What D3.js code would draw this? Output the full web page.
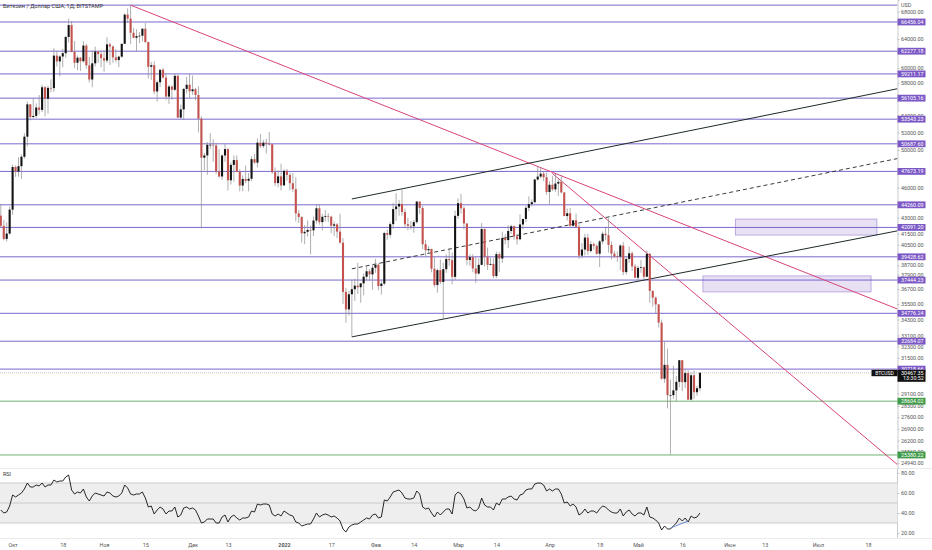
<!DOCTYPE html>
<html>
<head>
<meta charset="utf-8">
<script src="https://cdn.jsdelivr.net/npm/d3@7"></script>
<style>
  html, body { margin: 0; padding: 0; background: #fff; }
  svg { display: block; font-family: Roboto, "Liberation Sans", sans-serif; }
</style>
</head>
<body>
<div id="chart"></div>
<script>
// ---- data (BTCUSD, Bitstamp, 1D) ----
const firstDay = "2021-09-27";
const firstOpen = 43210;

const highs = [
  44350, 42790, 42580, 44100,
  48400, 48300, 49200, 49500, 51900, 55700, 55340, 56100, 55450, 56500, 57800, 57650, 57650, 58500, 62700, 62300, 61700, 62600, 64400, 66950, 66600, 63700, 61700, 61450, 63700, 63300, 61500, 62400, 62900, 62300, 62400,
  62400, 64250, 63500, 63050, 62600, 61650, 63300, 67750, 68500, 68990, 65600, 65400, 65000, 65500, 66300, 63600, 60800, 60900, 58350, 59800, 60000, 59250, 57800, 57700, 59300, 59100, 55300, 57400, 58850, 59200,
  59000, 57400, 57600, 53900, 49650, 50900, 51900, 51200, 50800, 50100, 49500, 50700, 50200, 48650, 49400, 49400, 47900, 47250, 48300, 47500, 49300, 49550, 51300, 51800, 51150, 51250, 52050, 50650, 48100, 47800, 48500,
  47900, 47950, 47550, 47500, 47050, 43750, 43150, 42300, 42750, 42250, 43100, 44350, 44300, 43400, 43750, 43450, 43200, 42650, 42500, 43400, 41100, 36800, 36550, 37500, 37550, 38900, 37200, 38000, 38700, 38350, 38700,
  39250, 38850, 37400, 41700, 41900, 42600, 44450, 45400, 44750, 45800, 43900, 43000, 42700, 42800, 44650, 44500, 44150, 40950, 40400, 40150, 39400, 38400, 39200, 38900, 39650, 40200, 39800, 43700,
  44900, 45350, 44100, 42500, 39650, 39650, 39400, 39300, 42500, 42000, 40250, 39350, 39300, 39900, 39850, 41700, 41450, 42300, 42350, 42250, 41500, 43350, 42900, 44150, 45100, 44800, 46900, 48200, 48100, 47650, 47550,
  46650, 47200, 47400, 46850, 47150, 45500, 43900, 43950, 42800, 43400, 42400, 40650, 41500, 41500, 40850, 40700, 40550, 40950, 41700, 42150, 42950, 40800, 39950, 39900, 40550, 40750, 39450, 40350, 39900, 38800,
  38650, 39150, 38600, 40000, 39800, 36600, 36100, 35500, 34300, 32650, 32150, 30000, 30950, 30250, 31350, 31250, 30700, 30650, 30500, 30600, 29600, 30500
];

const lows = [
  42100, 40900, 40800, 41440,
  43300, 47100, 47120, 46900, 49050, 50400, 53400, 53650, 53700, 54100, 54400, 53880, 54200, 56850, 56900, 60200, 58900, 60100, 61400, 63500, 62100, 60000, 59700, 59600, 60700, 59900, 58100, 57500, 60200, 60700, 60100,
  59500, 60700, 60400, 60700, 60750, 60100, 61350, 63300, 66300, 63300, 64100, 62300, 63400, 63600, 63400, 58600, 58400, 56600, 55650, 57500, 58600, 55900, 55400, 55900, 57000, 53700, 53600, 53450, 56700, 56050,
  56500, 55850, 52000, 42000, 47800, 47300, 50100, 48700, 47400, 47000, 46800, 48700, 45700, 46300, 46600, 47600, 45600, 45600, 46450, 45600, 46650, 48500, 48100, 50200, 50200, 49600, 50500, 47400, 46150, 46000, 45700,
  46200, 46700, 45700, 45550, 42650, 42500, 40700, 40550, 41250, 39650, 41300, 42450, 42350, 41800, 42650, 42600, 41550, 41300, 41100, 40600, 35500, 34050, 34600, 33000, 35750, 36300, 35600, 36200, 37400, 37400, 36650,
  38050, 36600, 36250, 37000, 40950, 41150, 41950, 42700, 43200, 43200, 42000, 41800, 41900, 41600, 42450, 43350, 40100, 39450, 39700, 38100, 36850, 36400, 37100, 34300, 38050, 38650, 37100, 37450,
  42900, 43400, 41900, 38700, 38650, 38100, 37200, 37900, 38700, 38600, 38300, 38700, 37600, 37600, 38100, 38900, 40550, 40200, 41500, 40950, 40500, 40900, 41900, 42600, 43650, 44100, 44400, 46700, 46950, 46650, 45250,
  44250, 45650, 45550, 45150, 45400, 43150, 42750, 42150, 42150, 42050, 39250, 39300, 39550, 39600, 39800, 40050, 39600, 38550, 40550, 40900, 39800, 39200, 39300, 39000, 38250, 37850, 37900, 38900, 38200, 37600,
  37400, 38050, 37500, 37700, 35600, 35300, 34800, 33700, 30000, 29800, 28150, 25400, 28750, 28600, 29500, 29250, 29450, 28700, 28650, 28750, 28950, 29250
];

const closes = [
  42240, 41030, 41520, 43790,
  48140, 47660, 48230, 49250, 51500, 55340, 53800, 53930, 54950, 54660, 57480, 56040, 57400, 57370, 61670, 60880, 61550, 62000, 64280, 66000, 62200, 60700, 61390, 60900, 63060, 60350, 58480, 60620, 62240, 61880, 61320,
  61000, 63230, 62940, 61430, 61060, 61530, 63310, 67550, 66970, 64880, 64160, 64400, 64460, 65470, 63560, 60160, 60370, 56940, 58120, 59760, 58730, 56300, 57570, 57160, 58960, 53730, 54720, 57270, 57800, 56980,
  57220, 56500, 53600, 49150, 49400, 50580, 50580, 50500, 47670, 47140, 49390, 50100, 46740, 48370, 48890, 47630, 46200, 46880, 46690, 46900, 48990, 48610, 50820, 50430, 50820, 50700, 50640, 47590, 46450, 47150, 46210,
  47730, 47300, 46440, 45830, 43430, 43080, 41550, 41680, 41860, 41820, 42740, 43920, 42590, 43100, 43180, 43110, 42250, 42380, 41700, 40690, 36470, 35080, 36280, 36690, 36980, 36850, 37170, 37720, 38180, 37920, 38480,
  38740, 36950, 37150, 41570, 41410, 42400, 43840, 44100, 44350, 43560, 42390, 42240, 42200, 42590, 44580, 43950, 40550, 40010, 40120, 38400, 37030, 38280, 37280, 38360, 39230, 39140, 37710, 43190,
  44420, 43920, 42460, 39150, 39400, 38420, 37990, 38730, 41940, 39440, 38730, 38810, 37780, 39670, 39280, 41110, 40920, 41760, 42200, 41260, 41000, 42370, 42890, 43960, 44330, 44520, 46820, 47130, 47430, 47060, 45540,
  46280, 45810, 46400, 46580, 45500, 43170, 43440, 42250, 42760, 42150, 39530, 40070, 41150, 39940, 40550, 40400, 39700, 40800, 41500, 41370, 40480, 39710, 39470, 39450, 40430, 38110, 39240, 39740, 38600, 37640,
  38470, 38530, 37720, 39690, 36550, 36010, 35470, 34060, 30070, 31010, 28990, 28990, 29300, 29860, 31330, 29840, 30450, 28700, 30300, 29180, 29440, 30467.35
];

const rsiValues = [
  43, 40, 41, 47,
  58, 56, 58, 60, 64, 70, 66, 66, 68, 67, 70, 66, 68, 68, 73, 71, 72, 72, 76, 78, 63, 59, 61, 60, 64, 56, 52, 57, 60, 59, 58,
  57, 61, 60, 57, 56, 57, 60, 68, 65, 59, 58, 59, 59, 61, 55, 46, 47, 39, 43, 46, 44, 39, 42, 42, 46, 36, 38, 45, 46, 44,
  45, 43, 37, 30, 31, 34, 34, 34, 30, 30, 36, 38, 31, 36, 38, 35, 33, 35, 35, 36, 42, 41, 49, 48, 49, 49, 48, 39, 37, 39, 37,
  42, 40, 38, 37, 31, 30, 27, 28, 29, 29, 34, 40, 36, 38, 39, 38, 36, 37, 35, 32, 24, 21, 26, 28, 29, 29, 31, 33, 35, 34, 38,
  39, 35, 36, 53, 52, 56, 61, 62, 63, 60, 55, 54, 54, 55, 62, 59, 46, 44, 45, 40, 36, 41, 38, 41, 44, 44, 39, 58,
  61, 59, 54, 45, 46, 43, 42, 45, 55, 48, 46, 46, 43, 50, 48, 54, 54, 56, 57, 54, 53, 58, 59, 63, 64, 64, 69, 70, 70, 68, 62,
  64, 62, 64, 64, 59, 50, 51, 47, 49, 46, 38, 40, 44, 40, 42, 42, 40, 44, 47, 46, 43, 41, 40, 40, 44, 37, 41, 43, 39, 37,
  40, 40, 38, 46, 36, 35, 33, 30, 23, 27, 24, 24, 27, 30, 35, 32, 35, 31, 37, 35, 36, 40
];

// horizontal levels
const athLevel = 68990;
const purpleLevels = [66456.04, 62277.18, 59211.17, 56105.16, 53543.23, 50687.60, 47673.19, 44260.09,
                      42091.20, 39428.62, 37444.23, 34776.24, 32684.07, 30718.66];
const greenLevels = [28604.02, 25380.22];

const priceTicks = [68000, 64000, 60000, 58000, 54000, 52000, 50000, 46000, 43000, 41500, 40500, 38700,
                    37900, 36700, 35500, 34300, 33100, 32300, 31500, 29100, 28300, 27600, 26900, 26200, 25560, 24940];
const rsiTicks = [80, 60, 40, 20];
const rsiBand = [70, 50, 30];

const tickDates = ["2021-10-01", "2021-10-18", "2021-11-01", "2021-11-15", "2021-12-01", "2021-12-13",
                   "2022-01-01", "2022-01-17", "2022-02-01", "2022-02-14", "2022-03-01", "2022-03-14",
                   "2022-04-01", "2022-04-18", "2022-05-01", "2022-05-16", "2022-06-01", "2022-06-13",
                   "2022-07-01", "2022-07-18"];
const tickLabels = ["Окт", "18", "Ноя", "15", "Дек", "13", "2022", "17", "Фев", "14", "Мар", "14",
                    "Апр", "18", "Май", "16", "Июн", "13", "Июл", "18"];

// drawings: [date1, price1, date2, price2], extended to the right edge
const pinkLines = [
  ["2021-11-10", 68990, "2022-03-28", 48200],
  ["2022-04-02", 47450, "2022-05-04", 39750]
];
const channelLines = [
  ["2022-01-24", 44840, "2022-02-24", 46720],
  ["2022-01-24", 33000, "2022-02-24", 34330]
];
const channelMid = ["2022-01-24", 38390, "2022-02-24", 40000];
// zones: [date from, date to, price top, price bottom]
const zones = [
  ["2022-06-03", "2022-07-21", 42880, 41380],
  ["2022-05-23", "2022-07-19", 37790, 36470]
];
const rsiTrend = ["2022-05-12", 25, "2022-05-18", 32];

const lastPrice = 30467.35;
const lastTimer = "13:30:52";

// ---- layout ----
const W = 932, H = 550;
const plotRight = 897.5;
const priceBottom = 468;
const parse = d3.utcParse("%Y-%m-%d");
const DAY = 864e5;
const jan1 = Date.UTC(2022, 0, 1);
const pxPerDay = 2.95;

const x = d3.scaleUtc()
    .domain([new Date(jan1 - 284 / pxPerDay * DAY), new Date(jan1 + (plotRight - 284) / pxPerDay * DAY)])
    .range([0, plotRight]);
const y = d3.scaleLog().domain([24656, 69785]).range([priceBottom, 0]);
const yR = d3.scaleLinear().domain([20, 80]).range([533, 473]);

const svg = d3.select("#chart").append("svg")
    .attr("width", W).attr("height", H);

svg.append("defs").append("clipPath").attr("id", "pane")
  .append("rect").attr("x", 0).attr("y", 0).attr("width", plotRight).attr("height", priceBottom);

const start = parse(firstDay);
const candles = closes.map((c, i) => {
    var o = i === 0 ? firstOpen : closes[i - 1];
    return {
        date: d3.utcDay.offset(start, i),
        o: o, c: c,
        h: Math.max(highs[i], o, c),
        l: Math.min(lows[i], o, c)
    };
});

const price = svg.append("g").attr("clip-path", "url(#pane)");

// zones
price.selectAll("rect.zone")
    .data(zones)
    .enter().append("rect")
    .attr("class", "zone")
    .attr("x", d => x(parse(d[0])))
    .attr("y", d => y(d[2]))
    .attr("width", d => x(parse(d[1])) - x(parse(d[0])))
    .attr("height", d => y(d[3]) - y(d[2]))
    .attr("fill", "rgba(149,117,205,0.22)")
    .attr("stroke", "rgba(126,87,194,0.55)")
    .attr("stroke-width", 0.8);

// horizontal levels
price.selectAll("line.purple")
    .data([athLevel].concat(purpleLevels))
    .enter().append("line")
    .attr("x1", 0).attr("x2", plotRight)
    .attr("y1", d => y(d)).attr("y2", d => y(d))
    .attr("stroke", "#6b57c9").attr("stroke-width", 0.9);

price.selectAll("line.green")
    .data(greenLevels)
    .enter().append("line")
    .attr("x1", 0).attr("x2", plotRight)
    .attr("y1", d => y(d)).attr("y2", d => y(d))
    .attr("stroke", "#62a862").attr("stroke-width", 0.9);

// last price line
price.append("line")
    .attr("x1", 0).attr("x2", plotRight)
    .attr("y1", y(lastPrice)).attr("y2", y(lastPrice))
    .attr("stroke", "#9a9a9a").attr("stroke-width", 0.6)
    .attr("stroke-dasharray", "1,1");

// ray from two anchors to the right edge
function ray(d) {
    var x1 = x(parse(d[0])), y1 = y(d[1]);
    var x2 = x(parse(d[2])), y2 = y(d[3]);
    var k = (y2 - y1) / (x2 - x1);
    return [x1, y1, plotRight, y1 + k * (plotRight - x1)];
}

price.selectAll("line.pink")
    .data(pinkLines.map(ray))
    .enter().append("line")
    .attr("x1", d => d[0]).attr("y1", d => d[1])
    .attr("x2", d => d[2]).attr("y2", d => d[3])
    .attr("stroke", "#d6457c").attr("stroke-width", 1);

price.selectAll("line.channel")
    .data(channelLines.map(ray))
    .enter().append("line")
    .attr("x1", d => d[0]).attr("y1", d => d[1])
    .attr("x2", d => d[2]).attr("y2", d => d[3])
    .attr("stroke", "#1f2a28").attr("stroke-width", 1);

const mid = ray(channelMid);
price.append("line")
    .attr("x1", mid[0]).attr("y1", mid[1])
    .attr("x2", mid[2]).attr("y2", mid[3])
    .attr("stroke", "#1f2a28").attr("stroke-width", 0.9)
    .attr("stroke-dasharray", "4,3");

// candles
const bodyW = 2.1;
const cg = price.selectAll("g.candle")
    .data(candles)
    .enter().append("g")
    .attr("class", "candle");

cg.append("line")
    .attr("x1", d => x(d.date)).attr("x2", d => x(d.date))
    .attr("y1", d => y(d.h)).attr("y2", d => y(d.l))
    .attr("stroke", "#8c8c8c").attr("stroke-width", 0.7);

cg.append("rect")
    .attr("x", d => x(d.date) - bodyW / 2)
    .attr("y", d => y(Math.max(d.o, d.c)))
    .attr("width", bodyW)
    .attr("height", d => Math.max(0.7, Math.abs(y(d.o) - y(d.c))))
    .attr("fill", d => d.c >= d.o ? "#141414" : "#c4534f");

// title
svg.append("text")
    .attr("x", 3).attr("y", 7.5)
    .attr("font-size", 5.6).attr("fill", "#333")
    .text("Биткоин / Доллар США, 1Д, BITSTAMP");

// ---- right price axis ----
const yAxis = svg.append("g")
    .attr("transform", "translate(" + plotRight + ",0)")
    .call(d3.axisRight(y).tickValues(priceTicks).tickFormat(d3.format(".2f")).tickSize(2).tickPadding(1.5));
yAxis.select(".domain").attr("stroke", "#a8a8a8").attr("stroke-width", 0.6);
yAxis.selectAll(".tick line").attr("stroke", "#a8a8a8").attr("stroke-width", 0.6);
yAxis.selectAll("text").attr("font-size", 5.4).attr("fill", "#555").attr("font-family", "Roboto, sans-serif");

svg.append("line")
    .attr("x1", plotRight).attr("x2", plotRight).attr("y1", priceBottom).attr("y2", 538)
    .attr("stroke", "#a8a8a8").attr("stroke-width", 0.6);

svg.append("text")
    .attr("x", 901).attr("y", 7)
    .attr("font-size", 5.4).attr("fill", "#555")
    .text("USD");

// level labels
function levelLabel(v, bg) {
    var g = svg.append("g").attr("transform", "translate(" + plotRight + "," + y(v) + ")");
    g.append("rect").attr("x", 0).attr("y", -3.4).attr("width", 28).attr("height", 6.8).attr("fill", bg);
    g.append("text").attr("x", 3.5).attr("y", 2).attr("font-size", 5.4).attr("fill", "#fff")
        .text(d3.format(".2f")(v));
}
purpleLevels.forEach(v => levelLabel(v, "#7b58c6"));
greenLevels.forEach(v => levelLabel(v, "#3f9a49"));

// last price labels
const ly = y(lastPrice);
svg.append("rect").attr("x", 871.5).attr("y", ly - 3).attr("width", 26).attr("height", 6.4).attr("fill", "#111");
svg.append("text").attr("x", 884.5).attr("y", ly + 2).attr("text-anchor", "middle")
    .attr("font-size", 5).attr("fill", "#fff").text("BTCUSD");
svg.append("rect").attr("x", plotRight).attr("y", ly - 3).attr("width", 28).attr("height", 12).attr("fill", "#111");
svg.append("text").attr("x", 901).attr("y", ly + 2)
    .attr("font-size", 5.4).attr("fill", "#fff").text(d3.format(".2f")(lastPrice));
svg.append("text").attr("x", 903).attr("y", ly + 7.6)
    .attr("font-size", 5.4).attr("fill", "#fff").text(lastTimer);

// ---- RSI pane ----
svg.append("line")
    .attr("x1", 0).attr("x2", W).attr("y1", priceBottom + 0.5).attr("y2", priceBottom + 0.5)
    .attr("stroke", "#e4e4e4").attr("stroke-width", 0.8);

svg.append("rect")
    .attr("x", 0).attr("width", plotRight)
    .attr("y", yR(rsiBand[0])).attr("height", yR(rsiBand[2]) - yR(rsiBand[0]))
    .attr("fill", "#eeeeee");

svg.selectAll("line.band")
    .data(rsiBand)
    .enter().append("line")
    .attr("x1", 0).attr("x2", plotRight)
    .attr("y1", d => yR(d)).attr("y2", d => yR(d))
    .attr("stroke", "#c6c6c6").attr("stroke-width", 0.9);

svg.append("path")
    .datum(candles.map((d, i) => [d.date, rsiValues[i]]))
    .attr("fill", "none")
    .attr("stroke", "#111")
    .attr("stroke-width", 0.9)
    .attr("stroke-linejoin", "round")
    .attr("d", d3.line().x(d => x(d[0])).y(d => yR(d[1])));

svg.append("line")
    .attr("x1", x(parse(rsiTrend[0]))).attr("y1", yR(rsiTrend[1]))
    .attr("x2", x(parse(rsiTrend[2]))).attr("y2", yR(rsiTrend[3]))
    .attr("stroke", "#5b7fd0").attr("stroke-width", 0.9);

svg.append("text")
    .attr("x", 3).attr("y", 476)
    .attr("font-size", 5.4).attr("fill", "#333")
    .text("RSI");

const rAxis = svg.append("g")
    .attr("transform", "translate(" + plotRight + ",0)")
    .call(d3.axisRight(yR).tickValues(rsiTicks).tickFormat(d3.format(".2f")).tickSize(2).tickPadding(1.5));
rAxis.select(".domain").remove();
rAxis.selectAll(".tick line").attr("stroke", "#a8a8a8").attr("stroke-width", 0.6);
rAxis.selectAll("text").attr("font-size", 5.4).attr("fill", "#555").attr("font-family", "Roboto, sans-serif");

// ---- time axis ----
svg.append("line")
    .attr("x1", 0).attr("x2", W).attr("y1", 538.5).attr("y2", 538.5)
    .attr("stroke", "#e4e4e4").attr("stroke-width", 0.8);

const xAxis = svg.append("g")
    .attr("transform", "translate(0,538.5)")
    .call(d3.axisBottom(x).tickValues(tickDates.map(parse)).tickFormat((d, i) => tickLabels[i]).tickSize(0).tickPadding(5));
xAxis.select(".domain").remove();
xAxis.selectAll("text")
    .attr("font-size", 5.4).attr("fill", "#555").attr("font-family", "Roboto, sans-serif")
    .attr("font-weight", (d, i) => tickLabels[i] === "2022" ? "bold" : "normal");
</script>
</body>
</html>
